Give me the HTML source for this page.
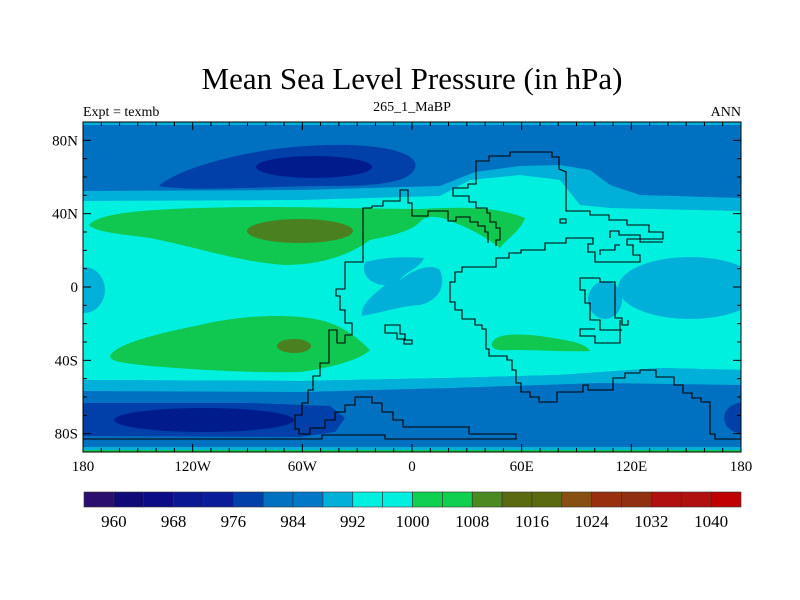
<!DOCTYPE html>
<html><head><meta charset="utf-8"><style>
body{margin:0;background:#fff}
svg{display:block;font-family:"Liberation Serif",serif}
</style></head><body>
<svg id="c" width="800" height="600" viewBox="0 0 800 600">
<text x="412" y="89" font-size="31" text-anchor="middle">Mean Sea Level Pressure (in hPa)</text>
<text x="83" y="116" font-size="14">Expt = texmb</text>
<text x="412" y="111" font-size="14" text-anchor="middle">265_1_MaBP</text>
<text x="741" y="116" font-size="14" text-anchor="end">ANN</text>
<defs><clipPath id="pc"><rect x="83" y="122" width="658" height="330"/></clipPath></defs>
<g id="field" clip-path="url(#pc)">
<rect x="83" y="122" width="658" height="330" fill="#0070c0"/>
<rect x="83" y="122" width="658" height="3" fill="#00b0d8"/>
<rect x="83" y="447" width="658" height="3" fill="#00b0d8"/>
<rect x="83" y="450" width="658" height="2" fill="#10c850"/>
<path fill="#00b0d8" d="M83,191 L300,190 L440,186 L475,172 L520,166 L560,165 L590,170 L610,185 L640,195 L741,198 L741,215 L83,215Z"/>
<path fill="#00f0e0" d="M83,201 L300,200 L440,196 L470,180 L520,175 L560,180 L580,205 L610,208 L741,211 L741,370 L660,368 L560,375 L450,378 L300,381 L83,380Z"/>
<path fill="#00b0d8" d="M83,380 L300,381 L450,378 L560,375 L660,368 L741,370 L741,385 L600,383 L450,388 L300,392 L83,391Z"/>
<path fill="#0040a8" d="M159,186 C175,170 250,146 330,145 C390,144 420,155 415,168 C410,182 380,186 330,186 C270,186 190,192 159,186Z"/>
<ellipse cx="314" cy="167" rx="58" ry="11" fill="#001c8c"/>
<path fill="#0040a8" d="M83,403 L250,403 L330,406 L345,418 L335,432 L300,437 L83,436Z"/>
<ellipse cx="204" cy="420" rx="90" ry="12" fill="#001c8c"/>
<ellipse cx="745" cy="418" rx="21" ry="16" fill="#0040a8"/>
<path fill="#00b0d8" d="M365,262 C380,258 400,256 424,258 C420,268 405,272 400,280 C410,272 430,262 440,270 C446,285 440,300 420,305 C400,306 385,312 362,316 C360,305 372,296 385,285 C372,285 360,275 365,262Z"/>
<ellipse cx="690" cy="288" rx="72" ry="31" fill="#00b0d8"/>
<ellipse cx="84" cy="290" rx="21" ry="23" fill="#00b0d8"/>
<ellipse cx="605" cy="300" rx="17" ry="19" fill="#00b0d8"/>
<path fill="#10c850" d="M89,225 C100,212 150,208 260,207 C330,207 380,209 420,209 C460,207 495,206 525,218 C520,232 505,240 500,248 C490,240 470,228 455,223 C440,215 425,215 420,222 C410,232 390,236 370,240 C350,255 320,265 285,265 C240,262 200,248 150,238 C120,234 95,232 89,225Z"/>
<ellipse cx="300" cy="231" rx="53" ry="12" fill="#4a8020"/>
<path fill="#10c850" d="M110,356 C115,345 150,335 200,325 C240,315 300,312 330,323 C350,330 365,345 370,350 C360,360 330,368 300,372 C250,373 200,370 150,366 C125,363 110,362 110,356Z"/>
<ellipse cx="294" cy="346" rx="17" ry="7" fill="#4a8020"/>
<path fill="#10c850" d="M492,343 C495,334 515,333 540,336 C565,340 585,342 590,351 C570,352 540,350 510,350 C498,351 490,349 492,343Z"/>
</g>
<g fill="none" stroke="#000" stroke-width="1.1" clip-path="url(#pc)">
<path d="M476,166 L476,161 L489,161 L489,156 L510,156 L510,152 L552,152 L552,157 L559,157 L559,169 L566,172 L566,211 L590,211 L590,215 L609,215 L609,220 L627,220 L627,225 L649,225 L649,232 L663,232 L663,239 L627,239 L627,245 L633,245 L633,255 L640,255 L640,262 L595,262 L595,252 L588,252 L588,244 L593,244 L593,238 L566,238 L566,243 L545,243 L545,250 L521,250 L521,253 L509,253 L509,258 L496,258 L496,267 L462,267 L462,272 L455,272 L455,282 L450,282 L450,302 L455,302 L455,310 L462,310 L462,319 L475,319 L475,325 L482,325 L482,329 L486,329 L486,349 L489,349 L489,356 L507,356 L507,360 L512,360 L512,370 L516,370 L516,383 L521,383 L521,392 L530,392 L530,397 L539,397 L539,402 L557,402 L557,392 L583,392 L583,385 L588,385 L588,390 L613,390 L613,378 L625,378 L625,373 L640,373 L640,370 L656,370 L656,377 L674,377 L674,385 L683,385 L683,393 L692,393 L692,398 L701,398 L701,402 L710,402 L710,434 L715,434 L715,439 L741,439"/>
<path d="M476,166 L476,184 L468,184 L468,188 L453,188 L453,196 L469,196 L469,202 L476,202 L476,208 L487,208 L487,213 L490,213 L490,222 L496,222 L496,228 L500,228 L500,240 L496,240 L496,246"/>
<path d="M372,208 L372,206 L383,206 L383,201 L400,201 L400,190 L408,190 L408,203 L412,203 L412,216 L428,216 L428,211 L448,211 L448,221 L456,221 L456,217 L470,217 L470,222 L478,222 L478,226 L485,226 L485,232 L488,232 L488,243"/>
<path d="M372,208 L363,208 L363,262 L345,262 L345,289 L336,289 L336,296 L340,296 L340,310 L345,310 L345,323 L352,323 L352,335 L345,335 L345,343 L337,343 L337,330 L329,330 L329,363 L320,363 L320,376 L313,376 L313,390 L308,390 L308,403 L302,403 L302,415 L295,415 L295,429 L299,429 L299,434 L310,434 L310,428 L325,428 L325,420 L335,420 L335,412 L345,412 L345,405 L355,405 L355,397 L372,397 L372,403 L382,403 L382,412 L393,412 L393,420 L403,420 L403,427 L469,427 L469,434 L516,434 L516,439 L385,439 L385,435 L322,435 L322,439 L83,439"/>
<path d="M385,325 L400,325 L400,334 L405,334 L405,340 L412,340 L412,344 L404,344 L404,339 L397,339 L397,333 L385,333Z"/>
<path d="M560,223 L560,219 L566,219 L566,223Z"/>
<path d="M610,238 L610,231 L619,231 L619,235 L640,235 L640,242 L663,242"/>
<path d="M600,255 L600,250 L615,250 L615,245 L620,245"/>
<path d="M620,320 L620,343 L595,343 L595,336 L580,336 L580,329 L595,329"/>
<path d="M600,278 L580,278 L580,290 L585,290 L585,303 L590,303 L590,320 L600,320 L600,330 L622,330"/>
<path d="M600,278 L600,282 L615,282 L615,318 L622,318 L622,325 L628,325 L628,320"/>
</g>
<g id="axes"></g>
<g id="cbar"></g>
<script>
const levels=[960,964,968,972,976,980,984,988,992,996,1000,1004,1008,1012,1016,1020,1024,1028,1032,1036,1040];
const colors=["#2a0f6e","#100a78","#0c0c86","#0a1892","#0a1c98","#0040a8","#0070c0","#0078c8","#00b0d8","#00f0e0","#00f0e0","#10d050","#10d050","#4a8a20","#5a6a10","#5a6a10","#885010","#983010","#903010","#b01010","#b01010","#c00000"];
const lonTicks=[-180,-120,-60,0,60,120,180];
const lonLabels=["180","120W","60W","0","60E","120E","180"];
const latTicks=[-80,-40,0,40,80];
const latLabels=["80S","40S","0","40N","80N"];
const NS="http://www.w3.org/2000/svg";
const L=83,R=741,T=122,B=452;
const xs=lon=>L+(lon+180)/360*(R-L);
const ys=lat=>T+(90-lat)/180*(B-T);
function mk(tag,a,parent){const e=document.createElementNS(NS,tag);for(const k in a)e.setAttribute(k,a[k]);parent.appendChild(e);return e;}
const ax=document.getElementById('axes');
const frame=mk('rect',{x:L,y:T,width:R-L,height:B-T,fill:'none',stroke:'#000','stroke-width':1},ax);


for(let lon=-180;lon<=180;lon+=10){const x=xs(lon);const big=lon%60===0;const len=big?8:4;
 const t1=mk('line',{x1:x,y1:B,x2:x,y2:B-len,stroke:'#000'},ax);
 
 
 const t2=mk('line',{x1:x,y1:T,x2:x,y2:T+len,stroke:'#000'},ax);
 
 }
for(let lat=-90;lat<=90;lat+=10){const y=ys(lat);const big=lat%40===0;const len=big?8:4;
 const t1=mk('line',{x1:L,y1:y,x2:L+len,y2:y,stroke:'#000'},ax);
 
 
 const t2=mk('line',{x1:R,y1:y,x2:R-len,y2:y,stroke:'#000'},ax);
 
 }
lonTicks.forEach((v,i)=>{const t=mk('text',{x:xs(v),y:B+19,'font-size':15,'text-anchor':'middle'},ax);t.textContent=lonLabels[i];
 
 });
latTicks.forEach((v,i)=>{const t=mk('text',{x:L-5,y:ys(v)+5,'font-size':15,'text-anchor':'end'},ax);t.textContent=latLabels[i];
 
 });
const cb=document.getElementById('cbar');
const cL=84,cR=741,cT=492,cH=15,n=colors.length,w=(cR-cL)/n;
colors.forEach((c,i)=>{const r=mk('rect',{x:cL+i*w,y:cT,width:w,height:cH,fill:c,stroke:'#333','stroke-width':0.6},cb);
 
 });
levels.forEach((v,i)=>{if(i%2)return;const t=mk('text',{x:cL+(i+1)*w,y:cT+cH+20,'font-size':17,'text-anchor':'middle'},cb);t.textContent=v;
 
 });
</script>
</svg>
</body></html>
